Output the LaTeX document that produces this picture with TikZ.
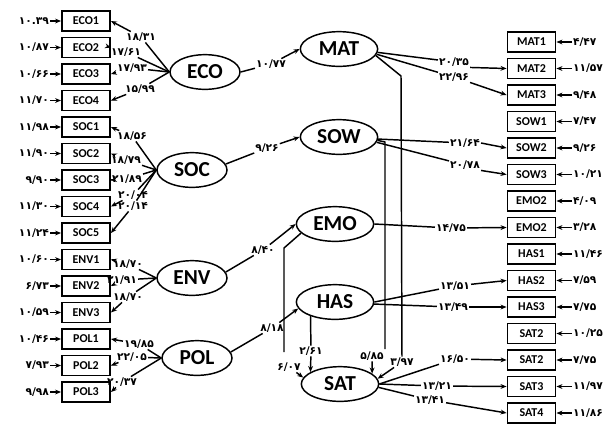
\documentclass[tikz,border=0pt]{standalone}
\usepackage{fontspec}
\usetikzlibrary{arrows.meta,shapes.geometric}
\newfontfamily\latf{Carlito}
\newfontfamily\faf{DejaVu Sans}
\begin{document}
\begin{tikzpicture}[x=0.75pt,y=-0.75pt,
 box/.style={draw, line width=1.4pt, minimum width=36pt, minimum height=15pt, inner sep=0pt, font=\latf\bfseries\fontsize{9}{10}\selectfont},
 latl/.style={draw, ellipse, line width=1.1pt, minimum width=52.5pt, minimum height=26pt, inner sep=0pt, font=\latf\bfseries\fontsize{16}{18}\selectfont},
 latr/.style={latl, minimum width=58pt},
 lab/.style={inner sep=0.6pt, font=\faf\bfseries\fontsize{8}{9}\selectfont},
 errl/.style={lab, anchor=east},
 errr/.style={lab, anchor=west},
 ln/.style={line width=1.1pt},
 arr/.style={ln, -{Stealth[length=4.5pt,width=3.6pt]}},
]
\fill[white] (0,0) rectangle (605,430);
\useasboundingbox (0,0) rectangle (605,430);

% ---------- left indicators ----------
\node[box] (eco1) at (86,21) {ECO1};   \node[errl] (ee1) at (50,21) {۱۰.۳۹};
\node[box] (eco2) at (86,47.5) {ECO2}; \node[errl] (ee2) at (50,47.5) {۱۰/۸۷};
\node[box] (eco3) at (86,74) {ECO3};   \node[errl] (ee3) at (50,74) {۱۰/۶۶};
\node[box] (eco4) at (86,100.5) {ECO4};\node[errl] (ee4) at (50,100.5) {۱۱/۷۰};
\node[box] (soc1) at (86,127) {SOC1};  \node[errl] (es1) at (50,127) {۱۱/۹۸};
\node[box] (soc2) at (86,153.5) {SOC2};\node[errl] (es2) at (50,153.5) {۱۱/۹۰};
\node[box] (soc3) at (86,180) {SOC3};  \node[errl] (es3) at (50,180) {۹/۹۰};
\node[box] (soc4) at (86,206.5) {SOC4};\node[errl] (es4) at (50,206.5) {۱۱/۳۰};
\node[box] (soc5) at (86,233) {SOC5};  \node[errl] (es5) at (50,233) {۱۱/۲۴};
\node[box] (env1) at (86,259.5) {ENV1};\node[errl] (ev1) at (50,259.5) {۱۰/۶۰};
\node[box] (env2) at (86,286) {ENV2};  \node[errl] (ev2) at (50,286) {۶/۷۳};
\node[box] (env3) at (86,312.5) {ENV3};\node[errl] (ev3) at (50,312.5) {۱۰/۵۹};
\node[box] (pol1) at (86,339) {POL1};  \node[errl] (ep1) at (50,339) {۱۰/۴۶};
\node[box] (pol2) at (86,365.5) {POL2};\node[errl] (ep2) at (50,365.5) {۷/۹۳};
\node[box] (pol3) at (86,392) {POL3};  \node[errl] (ep3) at (50,392) {۹/۹۸};
\foreach \a/\b in {ee1/eco1,ee2/eco2,ee3/eco3,ee4/eco4,es1/soc1,es2/soc2,es3/soc3,es4/soc4,es5/soc5,ev1/env1,ev2/env2,ev3/env3,ep1/pol1,ep2/pol2,ep3/pol3}
  \draw[arr] (\a) -- (\b);

% ---------- right indicators ----------
\node[box] (mat1) at (531.5,42) {MAT1};   \node[errr] (rm1) at (572,42) {۴/۴۷};
\node[box] (mat2) at (531.5,68.5) {MAT2}; \node[errr] (rm2) at (572,68.5) {۱۱/۵۷};
\node[box] (mat3) at (531.5,95) {MAT3};   \node[errr] (rm3) at (572,95) {۹/۴۸};
\node[box] (sow1) at (531.5,121.5) {SOW1};\node[errr] (rs1) at (572,121.5) {۷/۴۷};
\node[box] (sow2) at (531.5,148) {SOW2};  \node[errr] (rs2) at (572,148) {۹/۲۶};
\node[box] (sow3) at (531.5,174.5) {SOW3};\node[errr] (rs3) at (572,174.5) {۱۰/۲۱};
\node[box] (emoa) at (531.5,201) {EMO2};  \node[errr] (re1) at (572,201) {۴/۰۹};
\node[box] (emob) at (531.5,227.5) {EMO2};\node[errr] (re2) at (572,227.5) {۳/۲۸};
\node[box] (has1) at (531.5,254) {HAS1};  \node[errr] (rh1) at (572,254) {۱۱/۴۶};
\node[box] (has2) at (531.5,280.5) {HAS2};\node[errr] (rh2) at (572,280.5) {۷/۵۹};
\node[box] (has3) at (531.5,307) {HAS3};  \node[errr] (rh3) at (572,307) {۷/۷۵};
\node[box] (sata) at (531.5,333.5) {SAT2};\node[errr] (rt1) at (572,333.5) {۱۰/۲۵};
\node[box] (satb) at (531.5,360) {SAT2};  \node[errr] (rt2) at (572,360) {۷/۷۵};
\node[box] (sat3) at (531.5,386.5) {SAT3};\node[errr] (rt3) at (572,386.5) {۱۱/۹۷};
\node[box] (sat4) at (531.5,413) {SAT4};  \node[errr] (rt4) at (572,413) {۱۱/۸۶};
\foreach \a/\b in {rm1/mat1,rm2/mat2,rm3/mat3,rs1/sow1,rs2/sow2,rs3/sow3,re1/emoa,re2/emob,rh1/has1,rh2/has2,rh3/has3,rt1/sata,rt2/satb,rt3/sat3,rt4/sat4}
  \draw[arr] (\a) -- (\b);

% ---------- latent variables ----------
\node[latl] (ECO) at (205,72) {ECO};
\node[latl] (SOC) at (192,170) {SOC};
\node[latl] (ENV) at (192,278) {ENV};
\node[latl] (POL) at (197,358) {POL};
\node[latr] (MAT) at (339,49) {MAT};
\node[latr] (SOW) at (339,137) {SOW};
\node[latr] (EMO) at (335,224) {EMO};
\node[latr] (HAS) at (335,302) {HAS};
\node[latr] (SAT) at (340,384) {SAT};

% ---------- loadings, left ----------
\node[lab] (a1) at (141,37) {۱۸/۳۱};
\node[lab] (a2) at (126,52) {۱۷/۶۱};
\node[lab] (a3) at (132,68) {۱۷/۹۳};
\node[lab] (a4) at (140,89) {۱۵/۹۹};
\node[lab] (b1) at (132,136) {۱۸/۵۶};
\node[lab] (b2) at (126,160) {۱۸/۷۹};
\node[lab] (b3) at (127,179) {۲۱/۸۹};
\node[lab] (b4) at (133,195) {۲۰/۰۴};
\node[lab] (b5) at (133,206) {۲۰/۱۴};
\node[lab] (c1) at (128,264) {۱۸/۷۰};
\node[lab] (c2) at (122,280) {۲۱/۹۱};
\node[lab] (c3) at (128,297) {۱۸/۷۰};
\node[lab] (d1) at (139,344) {۱۹/۸۵};
\node[lab] (d2) at (132,357) {۲۲/۰۵};
\node[lab] (d3) at (122,382) {۲۰/۳۷};
\foreach \l/\b in {a1/eco1,a2/eco2,a3/eco3,a4/eco4}
  {\draw[ln] (ECO.west) -- (\l); \draw[arr] (\l) -- (\b.east);}
\foreach \l/\b in {b1/soc1,b2/soc2,b3/soc3,b4/soc4,b5/soc5}
  {\draw[ln] (SOC.west) -- (\l); \draw[arr] (\l) -- (\b.east);}
\foreach \l/\b in {c1/env1,c2/env2,c3/env3}
  {\draw[ln] (ENV.west) -- (\l); \draw[arr] (\l) -- (\b.east);}
\foreach \l/\b in {d1/pol1,d2/pol2,d3/pol3}
  {\draw[ln] (POL.west) -- (\l); \draw[arr] (\l) -- (\b.east);}

% ---------- structural paths ----------
\node[lab] (s1) at (271,64) {۱۰/۷۷};
\node[lab] (s2) at (267,148) {۹/۲۶};
\node[lab] (s3) at (263,250) {۸/۴۰};
\node[lab] (s4) at (272,328) {۸/۱۸};
\draw[ln] (ECO.east) -- (s1); \draw[arr] (s1) -- (MAT.west);
\draw[ln] (SOC.10) -- (s2);   \draw[arr] (s2) -- (SOW.west);
\draw[ln] (ENV.10) -- (s3);   \draw[arr] (s3) -- (EMO.west);
\draw[ln] (POL.10) -- (s4);   \draw[arr] (s4) -- (HAS.190);

% EMO -> SAT
\coordinate (v1) at (284,248);
\coordinate (v2) at (284,352);
\node[lab] (s5) at (289,367) {۶/۰۷};
\draw[ln] (EMO.195) -- (v1) -- (v2);
\draw[arr] (s5) -- (SAT.170);
% HAS -> SAT
\node[lab] (s6) at (311,351) {۲/۶۱};
\draw[ln] (HAS.210) -- (s6);
\draw[arr] (s6) -- (SAT.158);
% SOW -> SAT
\coordinate (w1) at (385,142);
\coordinate (w2) at (385,349);
\node[lab] (s7) at (372,356) {۵/۸۵};
\draw[ln] (SOW.-5) -- (w1) -- (w2);
\draw[arr] (s7) -- (SAT.18);
% MAT -> SAT
\coordinate (m1) at (401,76);
\node[lab] (s8) at (402,362) {۳/۹۷};
\draw[ln] (MAT.-10) -- (m1) -- (s8);
\draw[arr] (s8) -- (SAT.8);

% ---------- loadings, right ----------
\node[lab] (r1) at (454,62) {۲۰/۳۵};
\node[lab] (r2) at (454,77) {۲۲/۹۶};
\node[lab] (r3) at (465,143) {۲۱/۶۴};
\node[lab] (r4) at (465,165) {۲۰/۷۸};
\node[lab] (r5) at (451,228) {۱۴/۷۵};
\node[lab] (r6) at (455,286) {۱۳/۵۱};
\node[lab] (r7) at (453,307) {۱۳/۴۹};
\node[lab] (r8) at (455,359) {۱۶/۵۰};
\node[lab] (r9) at (437,386) {۱۳/۲۱};
\node[lab] (r10) at (430,400) {۱۳/۴۱};
\draw[ln] (MAT.-5) -- (r1);  \draw[arr] (r1.south east) -- (mat2.west);
\draw[ln] (MAT.-8) -- (r2);  \draw[arr] (r2.south east) -- (mat3.west);
\draw[ln] (SOW.-3) -- (r3);  \draw[arr] (r3.east) -- (sow2.west);
\draw[ln] (SOW.-8) -- (r4);  \draw[arr] (r4.south east) -- (sow3.west);
\draw[ln] (EMO.east) -- (r5); \draw[arr] (r5) -- (emob.west);
\draw[ln] (HAS.east) -- (r6); \draw[arr] (r6) -- (has2.west);
\draw[ln] (HAS.-3) -- (r7);  \draw[arr] (r7) -- (has3.west);
\draw[ln] (SAT.east) -- (r8); \draw[arr] (r8) -- (satb.west);
\draw[ln] (SAT.east) -- (r9); \draw[arr] (r9) -- (sat3.west);
\draw[ln] (SAT.-5) -- (r10); \draw[arr] (r10) -- (sat4.west);
\end{tikzpicture}
\end{document}
